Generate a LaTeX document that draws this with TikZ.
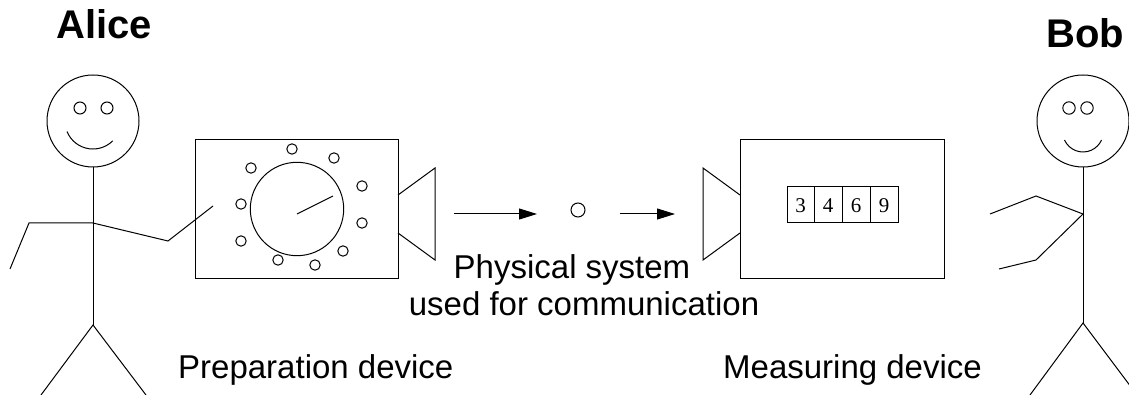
\documentclass[tikz,border=0pt]{standalone}
\usepackage{fontspec}
\setmainfont{Liberation Sans}
\newfontfamily\digitfont{Liberation Serif}
\usetikzlibrary{arrows.meta}
\begin{document}
\begin{tikzpicture}[x=1pt,y=-1pt,
  ln/.style={line width=1pt, black},
  dot/.style={ln, circle, inner sep=0pt, minimum size=14pt, draw},
  lbl/.style={font=\fontsize{33}{40}\selectfont, inner sep=0pt},
  who/.style={font=\fontsize{40}{48}\selectfont\bfseries, inner sep=0pt, anchor=base},
  dig/.style={font=\digitfont\fontsize{21}{25}\selectfont, inner sep=0pt},
  flow/.style={ln, -{Triangle[length=18pt,width=11pt]}},
]
\useasboundingbox (0,0) rectangle (1129,395);
\clip (0,0) rectangle (1129,395);

% ---------- Alice ----------
\node[who] (alice) at (104,39) {Alice};
\coordinate (ah) at (93,121);
\draw[ln] (ah) circle[radius=46];
\draw[ln] (80,108) circle[radius=6];
\draw[ln] (107,108) circle[radius=6];
\draw[ln] (67,131.5) arc[start angle=158, end angle=45, radius=28];
\coordinate (aneck) at (93,167);
\coordinate (ahip) at (93,325);
\coordinate (ash) at (93,223);
\draw[ln] (aneck) -- (ahip);
\draw[ln] (41,395) -- (ahip) -- (146,395);
\draw[ln] (10,269) -- (29,223) -- (ash) -- (168,241) -- (213,206);

% ---------- Preparation device ----------
\draw[ln] (195,140) rectangle (398,278);
\coordinate (dial) at (297,209);
\draw[ln] (dial) circle[radius=46.7];
\draw[ln] (297,214) -- (333,196);
\foreach \p in {(292,149),(334,158),(362,186),(362,223),(343,251),(315,265),(278,260),(241,241),(241,204),(251,168)}
  \draw[ln] \p circle[radius=5.2];
\draw[ln] (398,195) -- (435,168) -- (435,260) -- (398,233);

% ---------- channel ----------
\coordinate (a1s) at (454,214);
\coordinate (a1e) at (537,214);
\coordinate (a2s) at (620,214);
\coordinate (a2e) at (675,214);
\node[dot] (sys) at (578,210) {};
\draw[flow] (a1s) -- (a1e);
\draw[flow] (a2s) -- (a2e);
\node[lbl, anchor=base] (phys) at (572,279) {Physical system};
\node[lbl, anchor=base] (used) at (584,315) {used for communication};

% ---------- Measuring device ----------
\draw[ln] (740,140) rectangle (944,278);
\draw[ln] (740,195) -- (703,168) -- (703,260) -- (740,233);
\draw[ln] (787,187) rectangle (898,223);
\draw[ln] (814,187) -- (814,223);
\draw[ln] (842,187) -- (842,223);
\draw[ln] (870,187) -- (870,223);
\node[dig] (d3) at (800.5,206) {3};
\node[dig] (d4) at (828,206) {4};
\node[dig] (d6) at (856,206) {6};
\node[dig] (d9) at (884,206) {9};

% ---------- labels ----------
\node[lbl, anchor=base west] (prep) at (178,378) {Preparation device};
\node[lbl, anchor=base west] (meas) at (723,378) {Measuring device};

% ---------- Bob ----------
\node[who] (bob) at (1085,48) {Bob};
\coordinate (bh) at (1083,121);
\draw[ln] (bh) circle[radius=46];
\draw[ln] (1069,108) circle[radius=6.2];
\draw[ln] (1087,108) circle[radius=6.2];
\draw[ln] (1064.5,140) arc[start angle=155.8, end angle=24.2, radius=20.3];
\coordinate (bneck) at (1083,167);
\coordinate (bhip) at (1083,323);
\coordinate (bsh) at (1083,214);
\draw[ln] (bneck) -- (bhip);
\draw[ln] (1030,395) -- (bhip) -- (1137,395);
\draw[ln] (990,214) -- (1036,196) -- (bsh) -- (1036,260) -- (999,269);
\end{tikzpicture}
\end{document}
